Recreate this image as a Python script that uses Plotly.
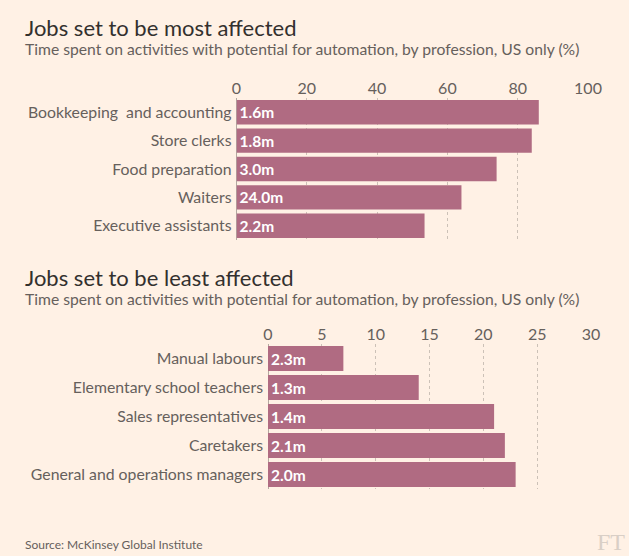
import plotly.graph_objects as go

W, H = 629, 556

top_categories = ["Bookkeeping  and accounting", "Store clerks", "Food preparation", "Waiters", "Executive assistants"]
top_values = [86, 84, 74, 64, 53.5]
top_labels = ["1.6m", "1.8m", "3.0m", "24.0m", "2.2m"]
top_ticks = [0, 20, 40, 60, 80, 100]

bot_categories = ["Manual labours", "Elementary school teachers", "Sales representatives", "Caretakers", "General and operations managers"]
bot_values = [7, 14, 21, 22, 23]
bot_labels = ["2.3m", "1.3m", "1.4m", "2.1m", "2.0m"]
bot_ticks = [0, 5, 10, 15, 20, 25, 30]

BG = "#fff1e5"
BAR = "#b06b82"
FONT = "Lato"
DARK = "#33302e"
GREY = "#66605c"

def px(x):
    return x / W

def py(y):
    return 1 - y / H

fig = go.Figure()
fig.add_trace(go.Bar(
    x=top_values, y=top_categories, orientation="h",
    marker=dict(color=BAR, line=dict(width=0)),
    text=top_labels, textposition="inside", insidetextanchor="start",
    textfont=dict(color="white", size=15.5, family=FONT, weight="bold"),
    constraintext="none", cliponaxis=False,
    xaxis="x", yaxis="y", hoverinfo="skip",
))
fig.add_trace(go.Bar(
    x=bot_values, y=bot_categories, orientation="h",
    marker=dict(color=BAR, line=dict(width=0)),
    text=bot_labels, textposition="inside", insidetextanchor="start",
    textfont=dict(color="white", size=15.5, family=FONT, weight="bold"),
    constraintext="none", cliponaxis=False,
    xaxis="x2", yaxis="y2", hoverinfo="skip",
))

xcommon = dict(side="top", showgrid=True, gridcolor="#ccc1b7", griddash="dot", gridwidth=1,
               zeroline=True, zerolinecolor="#b3a9a0", zerolinewidth=1,
               tickfont=dict(size=16, color=GREY, family=FONT), ticks="", showline=False,
               fixedrange=True, automargin=False)
ycommon = dict(autorange="reversed", showgrid=False, zeroline=False, showline=False, ticks="",
               tickfont=dict(size=15.8, color=GREY, family=FONT), ticklabelstandoff=4,
               fixedrange=True, automargin=False)

fig.update_layout(
    width=W, height=H,
    paper_bgcolor=BG, plot_bgcolor=BG,
    margin=dict(l=0, r=0, t=0, b=0, autoexpand=False),
    showlegend=False,
    bargap=0.14,
    xaxis=dict(xcommon, domain=[px(236.5), px(588)], range=[0, 100], tickvals=top_ticks, anchor="y"),
    yaxis=dict(ycommon, domain=[py(240), py(98)], anchor="x"),
    xaxis2=dict(xcommon, domain=[px(268), px(591)], range=[0, 30], tickvals=bot_ticks, anchor="y2"),
    yaxis2=dict(ycommon, domain=[py(489), py(344)], anchor="x2"),
    font=dict(family=FONT, color=GREY),
)

annotations = [
    dict(text="Jobs set to be most affected", x=px(23), y=py(12), xanchor="left", yanchor="top",
         font=dict(size=22, color=DARK, family=FONT)),
    dict(text="Time spent on activities with potential for automation, by profession, US only (%)",
         x=px(23), y=py(38), xanchor="left", yanchor="top", font=dict(size=15.7, color=GREY, family=FONT)),
    dict(text="Jobs set to be least affected", x=px(23), y=py(262), xanchor="left", yanchor="top",
         font=dict(size=22, color=DARK, family=FONT)),
    dict(text="Time spent on activities with potential for automation, by profession, US only (%)",
         x=px(23), y=py(288), xanchor="left", yanchor="top", font=dict(size=15.7, color=GREY, family=FONT)),
    dict(text="Source: McKinsey Global Institute", x=px(23), y=py(535), xanchor="left", yanchor="top",
         font=dict(size=12, color=GREY, family=FONT)),
    dict(text="FT", x=px(627), y=py(527), xanchor="right", yanchor="top",
         font=dict(size=24, color="#d9cfc6", family="Liberation Serif")),
]
for a in annotations:
    a.update(xref="paper", yref="paper", showarrow=False)
fig.update_layout(annotations=annotations)

fig.write_html(
    "out.html",
    config={"displayModeBar": False, "staticPlot": True},
    post_script=("document.documentElement.style.margin='0';document.documentElement.style.padding='0';"
                 "document.documentElement.style.overflow='hidden';"
                 "document.body.style.margin='0';document.body.style.padding='0';"
                 "document.body.style.overflow='hidden';document.body.style.background='#fff1e5';"),
)
